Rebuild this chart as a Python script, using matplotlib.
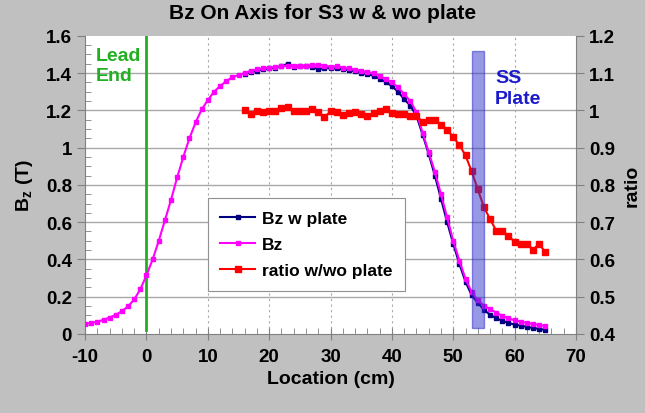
import matplotlib
matplotlib.use("Agg")
import matplotlib.pyplot as plt
import numpy as np

# ---------------- data ----------------
x_bz = list(range(-10, 66))
bz = [0.054, 0.059, 0.066, 0.076, 0.088, 0.103, 0.122, 0.148, 0.185, 0.24,
      0.315, 0.40, 0.50, 0.61, 0.72, 0.84, 0.95, 1.05, 1.135, 1.205,
      1.255, 1.30, 1.33, 1.357, 1.378, 1.39, 1.40, 1.412, 1.42, 1.425,
      1.43, 1.432, 1.436, 1.44, 1.44, 1.44, 1.44, 1.442, 1.445, 1.44,
      1.435, 1.437, 1.43, 1.425, 1.418, 1.412, 1.405, 1.40, 1.385, 1.367,
      1.35, 1.323, 1.287, 1.25, 1.19, 1.08, 0.975, 0.87, 0.75, 0.625,
      0.50, 0.393, 0.295, 0.225, 0.18, 0.152, 0.133, 0.114, 0.098, 0.084,
      0.073, 0.066, 0.059, 0.054, 0.048, 0.042]

x_plate = list(range(16, 66))
bz_plate = [1.395, 1.405, 1.413, 1.42, 1.425, 1.43, 1.437, 1.45, 1.435, 1.437,
            1.437, 1.435, 1.42, 1.428, 1.425, 1.425, 1.42, 1.415, 1.41, 1.40,
            1.395, 1.385, 1.37, 1.352, 1.33, 1.30, 1.26, 1.225, 1.17, 1.07,
            0.965, 0.85, 0.725, 0.60, 0.483, 0.375, 0.28, 0.207, 0.168, 0.128,
            0.104, 0.084, 0.071, 0.059, 0.05, 0.045, 0.038, 0.032, 0.027, 0.022]

ratio = [1.002, 0.989, 0.998, 0.995, 0.998, 0.999, 1.007, 1.01, 0.997, 0.997,
         0.999, 1.005, 0.995, 0.982, 0.997, 0.995, 0.988, 0.992, 0.995, 0.99,
         0.986, 0.992, 0.998, 1.004, 0.992, 0.989, 0.989, 0.986, 0.986, 0.968,
         0.974, 0.973, 0.962, 0.948, 0.928, 0.907, 0.879, 0.836, 0.788, 0.74,
         0.708, 0.677, 0.677, 0.662, 0.648, 0.642, 0.642, 0.626, 0.642, 0.619]

lead_x = 0
plate_span = [53, 55]
plate_range = [0.03, 1.52]

x_ticks = [-10, 0, 10, 20, 30, 40, 50, 60, 70]
y_ticks = [0, 0.2, 0.4, 0.6, 0.8, 1, 1.2, 1.4, 1.6]
r_ticks = [0.4, 0.5, 0.6, 0.7, 0.8, 0.9, 1, 1.1, 1.2]

# ---------------- style ----------------
plt.rcParams['font.family'] = ['Liberation Sans', 'DejaVu Sans']
plt.rcParams['font.weight'] = 'bold'
plt.rcParams['mathtext.fontset'] = 'custom'
plt.rcParams['mathtext.rm'] = 'Liberation Sans:bold'
plt.rcParams['mathtext.default'] = 'rm'

bg = '#c0c0c0'
fig = plt.figure(figsize=(6.45, 4.14), dpi=100, facecolor=bg)
ax = fig.add_axes([0.132, 0.191, 0.761, 0.72])
ax.set_facecolor('white')
ax2 = ax.twinx()

ax.set_xlim(-10, 70)
ax.set_ylim(0, 1.6)
ax2.set_ylim(0.4, 1.2)

# grid
for yv in y_ticks[1:-1]:
    ax.axhline(yv, color='#a8a8a8', lw=1.0, zorder=0)
for xv in x_ticks[2:-1]:
    ax.axvline(xv, color='#a8a8a8', lw=0.8, ls=(0, (2, 3)), zorder=0)

# lead end line
ax.axvline(lead_x, ymin=0.012, ymax=1.0, color='#22b022', lw=2, zorder=2)
ax.text(-8.3, 1.44, 'Lead\nEnd', color='#22b022', fontsize=14, fontweight='bold',
        ha='left', va='center', linespacing=1.25)

# curves
ax.plot(x_plate, bz_plate, color='#000080', lw=1.5, marker='s', ms=2.2,
        zorder=3, label='Bz w plate')
ax.plot(x_bz, bz, color='#ff00ff', lw=1.5, marker='s', ms=2.2, zorder=4,
        label='Bz')
ax2.plot(x_plate, ratio, color='#ff0000', lw=1.5, marker='s', ms=4.5, zorder=3,
         label='ratio w/wo plate')

ax2.set_zorder(ax.get_zorder() + 1)
ax2.patch.set_visible(False)

# overlay axis on left-axis scale for the SS plate bar and legend
ax3 = ax.twinx()
ax3.set_ylim(0, 1.6)
ax3.set_xlim(-10, 70)
ax3.set_zorder(ax2.get_zorder() + 1)
ax3.patch.set_visible(False)
ax3.axis('off')
ax3.bar((plate_span[0] + plate_span[1]) / 2, plate_range[1] - plate_range[0],
        bottom=plate_range[0], width=plate_span[1] - plate_span[0],
        color='#3333cc', alpha=0.5, edgecolor='#2222cc', lw=1)
ax3.text(56.8, 1.32, 'SS\nPlate', color='#1a1acc', fontsize=14,
         fontweight='bold', ha='left', va='center', linespacing=1.25)

# ticks
ax.set_xticks(x_ticks)
ax.set_xticklabels([str(v) for v in x_ticks])
ax.set_xticks(np.arange(-10, 71, 2), minor=True)
ax.set_yticks(y_ticks)
ax.set_yticklabels(['0', '0.2', '0.4', '0.6', '0.8', '1', '1.2', '1.4', '1.6'])
ax.set_yticks(np.arange(0, 1.601, 0.05), minor=True)
ax2.set_yticks(r_ticks)
ax2.set_yticklabels(['0.4', '0.5', '0.6', '0.7', '0.8', '0.9', '1', '1.1', '1.2'])

ax.tick_params(axis='x', which='major', direction='inout', length=8,
               color='#808080', labelsize=13.5, pad=6)
ax.tick_params(axis='x', which='minor', direction='in', length=4,
               color='#808080')
ax.tick_params(axis='y', which='major', direction='out', length=6,
               color='#808080', labelsize=13.5)
ax.tick_params(axis='y', which='minor', direction='in', length=4,
               color='#808080')
ax2.tick_params(axis='y', which='major', direction='out', length=6,
                color='#808080', labelsize=13.5)
for a in (ax, ax2):
    for lab in a.get_xticklabels() + a.get_yticklabels():
        lab.set_fontweight('bold')

for a in (ax, ax2):
    a.spines['top'].set_visible(False)
ax.spines['left'].set_color('#808080')
ax.spines['bottom'].set_color('#808080')
ax.spines['right'].set_visible(False)
ax2.spines['right'].set_color('#808080')
ax2.spines['left'].set_visible(False)
ax2.spines['bottom'].set_visible(False)

ax.set_xlabel('Location (cm)', fontsize=14, fontweight='bold', labelpad=4)
ax.set_ylabel('B$_z$ (T)', fontsize=14, fontweight='bold', labelpad=8)
ax2.set_ylabel('ratio', fontsize=14, fontweight='bold', labelpad=6)
fig.suptitle('Bz On Axis for S3 w & wo plate', fontsize=15, fontweight='bold',
             y=0.99, x=0.5)

# legend
h1, l1 = ax.get_legend_handles_labels()
h2, l2 = ax2.get_legend_handles_labels()
handles = h1 + h2
labels = l1 + l2
leg = ax3.legend(handles, labels, loc='upper left',
                 bbox_to_anchor=(0.251, 0.455), borderaxespad=0,
                 fontsize=12.5, frameon=True,
                 fancybox=False, edgecolor='#909090', framealpha=1,
                 handlelength=2.0, handletextpad=0.4, labelspacing=0.65,
                 borderpad=0.7)
leg.get_frame().set_linewidth(0.8)
for t in leg.get_texts():
    t.set_fontweight('bold')

fig.savefig('out.png', dpi=100, facecolor=bg)
